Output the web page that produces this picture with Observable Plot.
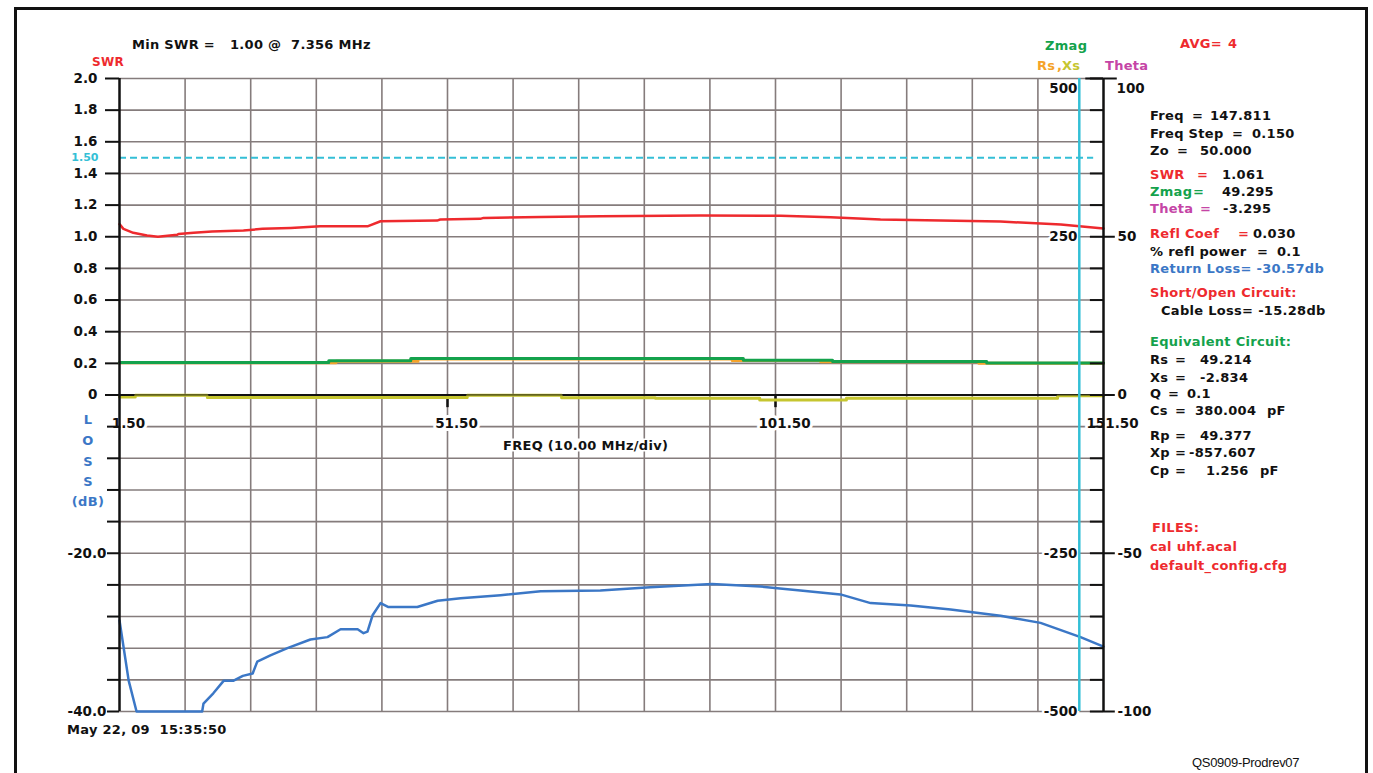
<!DOCTYPE html>
<html><head><meta charset="utf-8">
<script src="https://cdn.jsdelivr.net/npm/d3@7"></script>
<script src="https://cdn.jsdelivr.net/npm/@observablehq/plot@0.6"></script>
<style>
body{margin:0;background:#fff;}
#wrap{position:relative;width:1373px;height:773px;overflow:hidden;background:#fff;}
#wrap svg{position:absolute;left:0;top:0;}
.t{position:absolute;white-space:pre;font-family:"DejaVu Sans";font-weight:bold;font-size:13px;line-height:1;transform:translateY(-50%);letter-spacing:0.3px;}
#frame{position:absolute;left:14px;top:7px;width:1354px;height:800px;border:3px solid #111;box-sizing:border-box;}
</style></head><body><div id="wrap"><div id="frame"></div></div>
<script>
// ---- data ----
const swrFreq  = [1.5, 2.1, 3.6, 5.7, 7.356, 10.3, 10.5, 12.8, 15.6, 20.4, 23.3, 27.6, 32.1, 39.3, 41.3, 49.9, 50.4, 56.5, 57.0, 65.7, 74.8, 90.1, 102.3, 109.9, 117.5, 126.7, 135.8, 145.0, 151.5];
const swrValue = [1.08, 1.05, 1.025, 1.008, 1.0, 1.012, 1.018, 1.025, 1.033, 1.039, 1.05, 1.056, 1.066, 1.066, 1.098, 1.102, 1.109, 1.113, 1.119, 1.125, 1.13, 1.134, 1.133, 1.124, 1.109, 1.102, 1.096, 1.077, 1.052];

const lossFreq  = [1.5, 2.9, 4.1, 14.1, 14.3, 15.8, 17.4, 18.9, 20.3, 21.8, 22.5, 24.5, 27.1, 30.6, 33.2, 35.2, 37.8, 38.7, 39.3, 40.1, 41.3, 42.5, 46.9, 50.0, 53.5, 59.6, 65.7, 74.8, 82.4, 91.8, 99.2, 105.3, 111.4, 116.0, 122.1, 128.2, 135.8, 141.9, 148.0, 151.5];
const lossValue = [-28.5, -36.1, -40, -40, -39.0, -37.7, -36.1, -36.1, -35.5, -35.2, -33.7, -32.9, -32.0, -30.9, -30.6, -29.6, -29.6, -30.1, -29.9, -27.8, -26.3, -26.8, -26.8, -26.0, -25.7, -25.3, -24.8, -24.7, -24.3, -23.9, -24.2, -24.7, -25.2, -26.3, -26.6, -27.1, -27.9, -28.8, -30.6, -31.8];

const zmagFreq  = [1.5, 33.4, 45.9, 96.6, 110.2, 133.7, 151.5];
const zmagValue = [51.5, 54, 57.5, 55, 53, 50.5, 50.5];
const rsFreq    = [1.5, 34.5, 47.0, 94.9, 108.4, 132.5, 151.5];
const rsValue   = [51, 53.5, 57, 54.5, 52.5, 50, 50];
const xsFreq    = [1.5, 3.9, 14.9, 54.5, 68.9, 83.2, 99.1, 112.3, 144.5, 151.5];
const xsValue   = [-3, -0.5, -4, -0.5, -4.5, -5, -8, -5, -1, -1];

const markerFreq = 147.811;
const swrLimit = 1.5;

const xGridTicks  = [11.5, 21.5, 31.5, 41.5, 51.5, 61.5, 71.5, 81.5, 91.5, 101.5, 111.5, 121.5, 131.5, 141.5];
const xLabelTicks = [1.5, 51.5, 101.5, 151.5];
const xLabels     = ["1.50", "51.50", "101.50", "151.50"];
const xMajorTicks = [51.5, 101.5];
const swrTicks  = [0, 0.2, 0.4, 0.6, 0.8, 1.0, 1.2, 1.4, 1.6, 1.8, 2.0];
const swrLabels = ["0", "0.2", "0.4", "0.6", "0.8", "1.0", "1.2", "1.4", "1.6", "1.8", "2.0"];
const gridSwr   = [-2, -1.8, -1.6, -1.4, -1.2, -1, -0.8, -0.6, -0.4, -0.2, 0.2, 0.4, 0.6, 0.8, 1, 1.2, 1.4, 1.6, 1.8, 2];
const lossTicks  = [-4, -8, -12, -16, -20, -24, -28, -32, -36, -40];
const lossLabelMap = {"-20": "-20.0", "-40": "-40.0"};
const zTicks  = [500, 250, -250, -500];
const zLabels = ["500", "250", "-250", "-500"];
const thetaMinor = [100, 90, 80, 70, 60, 50, 40, 30, 20, 10, 0, -10, -20, -30, -40, -50, -60, -70, -80, -90, -100];
const thetaMajor = [50, 0, -50, -100];
const thetaTicks  = [100, 50, 0, -50, -100];
const thetaLabels = ["100", "50", "0", "-50", "-100"];

const K = "#111", RED = "#ee2a2e", GREEN = "#14a24c", BLUE = "#3b77c6", MAG = "#c545a6",
      ORANGE = "#f5a32a", YEL = "#c6c630", CYAN = "#34bfd6", GRID = "#857c7c";

const rows = (fs, vs) => fs.map((f, i) => ({f, v: vs[i]}));
const swrData = rows(swrFreq, swrValue);
const lossData = rows(lossFreq, lossValue);
const zmagData = rows(zmagFreq, zmagValue);
const rsData = rows(rsFreq, rsValue);
const xsData = rows(xsFreq, xsValue);

const make = (y, marks) => Plot.plot({
  width: 1373, height: 773,
  marginLeft: 119, marginRight: 270, marginTop: 78, marginBottom: 62,
  x: {domain: [1.5, 151.5], axis: null},
  y: {...y, axis: null},
  style: {background: "transparent", fontFamily: "DejaVu Sans", fontWeight: "bold", fontSize: "13px", overflow: "visible"},
  marks
});

// Plot 1: SWR scale + grid
const p1 = make({domain: [0, 2], range: [394.5, 78]}, [
  Plot.gridX({ticks: xGridTicks, stroke: GRID, strokeOpacity: 1, strokeWidth: 1.6}),
  Plot.gridY({ticks: gridSwr, stroke: GRID, strokeOpacity: 1, strokeWidth: 1.6}),
  Plot.axisY({ticks: swrTicks, anchor: "left", tickSize: 14, tickPadding: 8, label: null,
    tickFormat: (d) => swrLabels[swrTicks.indexOf(d)], color: K, strokeWidth: 2, fontSize: 13.5}),
  Plot.ruleY([swrLimit], {x1: 1.5, x2: 150, stroke: CYAN, strokeWidth: 2, strokeDasharray: "7,4"}),
  Plot.text([swrLimit], {y: (d) => d, frameAnchor: "left", dx: -21, textAnchor: "end", text: (d) => d.toFixed(2), fill: CYAN, fontSize: 11}),
  Plot.ruleX(xMajorTicks, {y1: 0, y2: -0.08, stroke: K, strokeWidth: 2.5}),
  Plot.text(xLabelTicks, {x: (d) => d, text: (d, i) => xLabels[i], frameAnchor: "top", dy: 340, dx: 9,
    fill: K, stroke: "white", strokeWidth: 6, fontSize: 13.5}),
  Plot.line(swrData, {x: "f", y: "v", stroke: RED, strokeWidth: 2.5})
]);

// Plot 2: return loss scale
const p2 = make({domain: [0, -40], range: [394.5, 711]}, [
  Plot.axisY({ticks: lossTicks, anchor: "left", tickSize: 12, tickPadding: 1, label: null,
    tickFormat: (d) => lossLabelMap[String(d)] || "", color: K, strokeWidth: 2, fontSize: 13.5}),
  Plot.line(lossData, {x: "f", y: "v", stroke: BLUE, strokeWidth: 2.5})
]);

// Plot 3: Zmag / Rs / Xs scale
const p3 = make({domain: [-500, 500], range: [711, 78]}, [
  Plot.line(rsData, {x: "f", y: "v", stroke: ORANGE, strokeWidth: 3, curve: "step-after"}),
  Plot.line(xsData, {x: "f", y: "v", stroke: YEL, strokeWidth: 3, curve: "step-after"}),
  Plot.ruleY([0], {stroke: K, strokeWidth: 2}),
  Plot.line(xsData, {x: "f", y: "v", stroke: YEL, strokeWidth: 2, strokeOpacity: 0.6, curve: "step-after"}),
  Plot.line(zmagData, {x: "f", y: "v", stroke: GREEN, strokeWidth: 3, curve: "step-after"}),
  Plot.text(zTicks.slice(1), {y: (d) => d, frameAnchor: "right", dx: -26, textAnchor: "end",
    text: (d, i) => zLabels[i + 1], fill: K, stroke: "white", strokeWidth: 5, fontSize: 13.5}),
  Plot.text(zTicks.slice(0, 1), {y: (d) => d, frameAnchor: "right", dx: -26, dy: 10, textAnchor: "end",
    text: (d, i) => zLabels[i], fill: K, stroke: "white", strokeWidth: 5, fontSize: 13.5})
]);

// Plot 4: Theta scale, axis frame lines and marker
const p4 = make({domain: [-100, 100], range: [711, 78]}, [
  Plot.ruleY(thetaMinor, {x1: 149.5, x2: 151.5, stroke: K, strokeWidth: 2}),
  Plot.ruleY(thetaMajor, {x1: 151.5, x2: 153.3, stroke: K, strokeWidth: 2}),
  Plot.ruleY([100], {x1: 148.8, x2: 153.6, stroke: K, strokeWidth: 2}),
  Plot.ruleX([1.5, 151.5], {y1: -100, y2: 100, stroke: K, strokeWidth: 2.5}),
  Plot.text(thetaTicks.slice(1), {y: (d) => d, frameAnchor: "right", dx: 14, textAnchor: "start",
    text: (d, i) => thetaLabels[i + 1], fill: K, fontSize: 13.5}),
  Plot.text(thetaTicks.slice(0, 1), {y: (d) => d, frameAnchor: "right", dx: 13, dy: 10, textAnchor: "start",
    text: (d, i) => thetaLabels[i], fill: K, fontSize: 13.5}),
  Plot.ruleX([markerFreq], {y1: -100, y2: 100, stroke: CYAN, strokeWidth: 2.5})
]);

const wrap = document.getElementById("wrap");
[p1, p2, p3, p4].forEach((p) => wrap.appendChild(p));

// ---- text annotations ----
const texts = [
  [132, 44, "Min SWR =", K], [230, 44, "1.00 @  7.356 MHz", K],
  [92, 62, "SWR", RED, 12],
  [1045, 45, "Zmag", GREEN], [1037, 65, "Rs", ORANGE], [1057, 65, ",", ORANGE], [1062, 65, "Xs", YEL],
  [1105, 65, "Theta", MAG], [1180, 43, "AVG=", RED], [1228, 43, "4", RED],
  [67, 729, "May 22, 09  15:35:50", K],
  [1150, 115, "Freq", K], [1192, 115, "=", K], [1210, 115, "147.811", K],
  [1150, 133, "Freq Step", K], [1232, 133, "=", K], [1252, 133, "0.150", K],
  [1150, 150, "Zo", K], [1177, 150, "=", K], [1200, 150, "50.000", K],
  [1150, 174, "SWR", RED], [1197, 174, "=", RED], [1222, 174, "1.061", K],
  [1150, 191, "Zmag", GREEN], [1193, 191, "=", GREEN], [1222, 191, "49.295", K],
  [1150, 208, "Theta", MAG], [1200, 208, "=", MAG], [1223, 208, "-3.295", K],
  [1150, 233, "Refl Coef", RED], [1238, 233, "=", RED], [1253, 233, "0.030", K],
  [1150, 251, "% refl power", K], [1257, 251, "=", K], [1277, 251, "0.1", K],
  [1150, 268, "Return Loss= -30.57db", BLUE],
  [1150, 292, "Short/Open Circuit:", RED],
  [1161, 310, "Cable Loss= -15.28db", K],
  [1150, 341, "Equivalent Circuit:", GREEN],
  [1150, 359, "Rs", K], [1175, 359, "=", K], [1200, 359, "49.214", K],
  [1150, 377, "Xs", K], [1175, 377, "=", K], [1200, 377, "-2.834", K],
  [1150, 393, "Q", K], [1168, 393, "=", K], [1187, 393, "0.1", K],
  [1150, 410, "Cs", K], [1175, 410, "=", K], [1195, 410, "380.004", K], [1267, 410, "pF", K],
  [1150, 435, "Rp", K], [1175, 435, "=", K], [1200, 435, "49.377", K],
  [1150, 452, "Xp", K], [1175, 452, "=", K], [1189, 452, "-857.607", K],
  [1150, 470, "Cp", K], [1175, 470, "=", K], [1206, 470, "1.256", K], [1260, 470, "pF", K],
  [1152, 527, "FILES:", RED], [1150, 546, "cal uhf.acal", RED], [1150, 565, "default_config.cfg", RED]
];
for (const [x, y, t, c, s] of texts) {
  const d = document.createElement("div");
  d.className = "t";
  d.style.left = x + "px"; d.style.top = y + "px"; d.style.color = c;
  if (s) d.style.fontSize = s + "px";
  d.textContent = t;
  wrap.appendChild(d);
}
// axis title with white backing
const ft = document.createElement("div");
ft.className = "t"; ft.textContent = "FREQ (10.00 MHz/div)";
ft.style.left = "503px"; ft.style.top = "445px"; ft.style.color = K; ft.style.background = "#fff";
wrap.appendChild(ft);
// LOSS (dB) vertical label
const lossLetters = ["L", "O", "S", "S", "(dB)"];
const lossY = [419, 440, 461, 481, 501];
lossLetters.forEach((l, i) => {
  const d = document.createElement("div");
  d.className = "t"; d.textContent = l; d.style.color = BLUE;
  d.style.left = "88px"; d.style.top = lossY[i] + "px";
  d.style.transform = "translate(-50%,-50%)";
  wrap.appendChild(d);
});
const ref = document.createElement("div");
ref.className = "t"; ref.textContent = "QS0909-Prodrev07";
ref.style.left = "1192px"; ref.style.top = "762px"; ref.style.color = K;
ref.style.fontFamily = "Liberation Sans"; ref.style.fontWeight = "normal"; ref.style.letterSpacing = "-0.3px";
wrap.appendChild(ref);
</script></body></html>
